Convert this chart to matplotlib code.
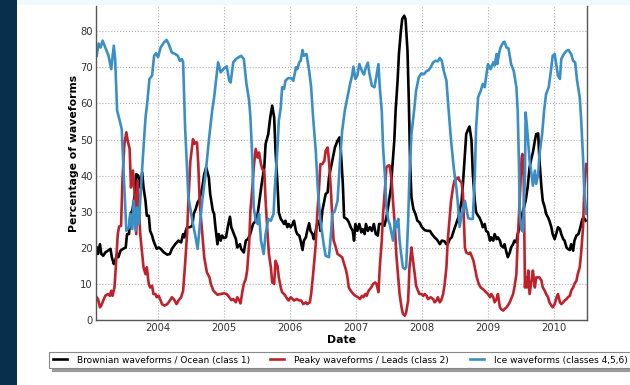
import matplotlib
matplotlib.use('Agg')
import matplotlib.pyplot as plt
from matplotlib.patches import Rectangle

# Brownian waveforms / Ocean (class 1)
ocean_t = [
    2003.07, 2003.09, 2003.12, 2003.14, 2003.17, 2003.20, 2003.24, 2003.28, 2003.30, 2003.33,
    2003.35, 2003.38, 2003.40, 2003.43, 2003.47, 2003.51, 2003.53, 2003.56, 2003.58, 2003.61,
    2003.63, 2003.66, 2003.67, 2003.70, 2003.72, 2003.73, 2003.76, 2003.78, 2003.81, 2003.83,
    2003.86, 2003.88, 2003.91, 2003.93, 2003.96, 2003.98, 2004.01, 2004.04, 2004.09, 2004.14,
    2004.18, 2004.21, 2004.26, 2004.31, 2004.35, 2004.38, 2004.40, 2004.42, 2004.44, 2004.48,
    2004.52, 2004.54, 2004.57, 2004.60, 2004.63, 2004.67, 2004.70, 2004.73, 2004.77, 2004.79,
    2004.83, 2004.85, 2004.87, 2004.90, 2004.92, 2004.95, 2004.97, 2005.00, 2005.03, 2005.06,
    2005.09, 2005.11, 2005.14, 2005.18, 2005.20, 2005.24, 2005.26, 2005.30, 2005.33, 2005.36,
    2005.39, 2005.41, 2005.44, 2005.48, 2005.51, 2005.53, 2005.57, 2005.61, 2005.63, 2005.67,
    2005.70, 2005.73, 2005.76, 2005.78, 2005.81, 2005.83, 2005.86, 2005.88, 2005.91, 2005.93,
    2005.96, 2005.98, 2006.01, 2006.04, 2006.06, 2006.09, 2006.11, 2006.14, 2006.16, 2006.19,
    2006.21, 2006.24, 2006.26, 2006.29, 2006.31, 2006.34, 2006.36, 2006.39, 2006.41, 2006.44,
    2006.46, 2006.49, 2006.52, 2006.54, 2006.57, 2006.59, 2006.63, 2006.68, 2006.72, 2006.75,
    2006.77, 2006.80, 2006.82, 2006.86, 2006.89, 2006.92, 2006.95, 2006.97, 2006.99, 2007.02,
    2007.05, 2007.08, 2007.10, 2007.13, 2007.15, 2007.18, 2007.21, 2007.24, 2007.27, 2007.30,
    2007.33, 2007.35, 2007.39, 2007.43, 2007.46, 2007.50, 2007.53, 2007.55, 2007.58, 2007.60,
    2007.63, 2007.65, 2007.68, 2007.70, 2007.73, 2007.75, 2007.78, 2007.80, 2007.82, 2007.84,
    2007.87, 2007.90, 2007.93, 2007.96, 2008.00, 2008.04, 2008.08, 2008.12, 2008.15, 2008.19,
    2008.23, 2008.27, 2008.30, 2008.34, 2008.37, 2008.39, 2008.42, 2008.45, 2008.48, 2008.55,
    2008.60, 2008.62, 2008.65, 2008.67, 2008.70, 2008.72, 2008.75, 2008.77, 2008.80, 2008.82,
    2008.85, 2008.87, 2008.90, 2008.92, 2008.95, 2008.97, 2009.00, 2009.03, 2009.05, 2009.08,
    2009.10, 2009.13, 2009.15, 2009.18, 2009.20, 2009.23, 2009.25, 2009.28, 2009.30, 2009.33,
    2009.35, 2009.38, 2009.40, 2009.43, 2009.45, 2009.48, 2009.51, 2009.53, 2009.57, 2009.60,
    2009.63, 2009.66, 2009.68, 2009.71, 2009.73, 2009.76, 2009.78, 2009.81, 2009.83, 2009.86,
    2009.88, 2009.91, 2009.93, 2009.96, 2009.98, 2010.01, 2010.04, 2010.06, 2010.09, 2010.11,
    2010.14, 2010.16, 2010.19, 2010.21, 2010.24, 2010.26, 2010.29, 2010.31, 2010.34, 2010.37,
    2010.40, 2010.43, 2010.45, 2010.48,
]
ocean_v = [
    20.1, 18.3, 21.0, 18.3, 17.8, 18.7, 19.2, 19.7, 17.4, 15.5,
    16.4, 18.3, 17.4, 19.2, 19.7, 20.1, 23.8, 23.8, 29.4, 30.3,
    32.6, 36.3, 40.4, 40.0, 38.6, 36.7, 40.9, 36.7, 33.0, 28.9,
    28.9, 24.7, 23.4, 22.0, 20.6, 19.7, 20.1, 19.7, 18.7, 18.1,
    18.3, 19.7, 21.0, 22.0, 21.5, 23.8, 22.9, 24.7, 25.7, 25.7,
    26.1, 29.4, 30.7, 32.6, 33.5, 36.7, 40.4, 42.3, 39.5, 34.9,
    30.3, 29.4, 25.7, 21.0, 23.8, 22.0, 23.4, 22.7, 22.9, 26.1,
    28.6, 25.7, 24.3, 22.4, 20.1, 21.0, 19.7, 18.7, 22.0, 22.4,
    23.4, 24.7, 26.6, 27.5, 29.4, 32.1, 37.7, 42.3, 48.8, 51.5,
    56.1, 59.4, 56.1, 46.9, 37.7, 29.8, 28.0, 27.5, 26.6, 27.5,
    25.7, 26.6, 25.7, 26.6, 27.5, 24.7, 23.8, 23.4, 22.0, 19.4,
    22.0, 22.9, 24.7, 26.8, 24.7, 23.8, 22.4, 24.7, 26.6, 27.5,
    24.7, 30.3, 33.0, 34.9, 35.4, 39.5, 43.2, 47.8, 49.7, 50.6,
    46.9, 37.7, 28.4, 28.0, 27.1, 25.7, 24.7, 22.0, 26.6, 24.7,
    26.6, 24.3, 25.2, 23.8, 26.6, 24.7, 25.7, 24.7, 26.6, 23.8,
    23.4, 26.6, 26.6, 26.1, 28.4, 33.0, 36.7, 42.3, 49.7, 58.0,
    66.3, 73.7, 80.1, 83.4, 84.3, 83.4, 74.6, 60.8, 43.2, 34.0,
    30.7, 29.4, 27.5, 27.1, 25.7, 24.9, 24.7, 24.7, 23.8, 22.9,
    22.2, 21.0, 22.0, 21.8, 21.0, 21.0, 22.4, 22.9, 24.7, 28.4,
    33.0, 37.7, 46.0, 51.5, 52.9, 53.6, 49.7, 40.4, 33.0, 29.8,
    28.9, 28.4, 27.1, 25.7, 26.6, 24.7, 24.3, 22.0, 22.9, 22.0,
    23.8, 22.4, 22.9, 22.0, 20.6, 20.1, 21.0, 18.7, 17.4, 18.7,
    20.1, 21.0, 22.0, 21.5, 23.8, 25.7, 28.4, 30.3, 33.0, 36.7,
    42.3, 45.0, 46.4, 49.7, 51.5, 51.7, 44.1, 36.7, 33.0, 31.2,
    29.4, 28.4, 27.5, 25.7, 23.8, 22.4, 24.3, 25.7, 25.2, 23.8,
    22.4, 22.0, 20.1, 19.7, 19.4, 21.0, 19.2, 22.0, 23.4, 23.8,
    25.7, 28.0, 28.4, 27.5,
]

# Peaky waveforms / Leads (class 2)
leads_t = [
    2003.07, 2003.09, 2003.12, 2003.14, 2003.17, 2003.20, 2003.24, 2003.27, 2003.29, 2003.31,
    2003.34, 2003.36, 2003.39, 2003.41, 2003.44, 2003.46, 2003.49, 2003.52, 2003.54, 2003.57,
    2003.59, 2003.62, 2003.64, 2003.67, 2003.69, 2003.71, 2003.73, 2003.76, 2003.78, 2003.81,
    2003.83, 2003.86, 2003.88, 2003.91, 2003.93, 2003.96, 2003.98, 2004.01, 2004.04, 2004.06,
    2004.10, 2004.14, 2004.18, 2004.21, 2004.24, 2004.28, 2004.31, 2004.35, 2004.38, 2004.41,
    2004.44, 2004.46, 2004.49, 2004.53, 2004.55, 2004.57, 2004.59, 2004.61, 2004.63, 2004.65,
    2004.68, 2004.70, 2004.74, 2004.78, 2004.80, 2004.84, 2004.90, 2004.95, 2005.00, 2005.04,
    2005.08, 2005.11, 2005.14, 2005.18, 2005.20, 2005.23, 2005.25, 2005.28, 2005.30, 2005.33,
    2005.35, 2005.38, 2005.40, 2005.43, 2005.45, 2005.48, 2005.51, 2005.53, 2005.56, 2005.58,
    2005.61, 2005.63, 2005.66, 2005.68, 2005.71, 2005.73, 2005.76, 2005.78, 2005.81, 2005.83,
    2005.86, 2005.88, 2005.91, 2005.93, 2005.96, 2005.98, 2006.01, 2006.04, 2006.06, 2006.10,
    2006.14, 2006.17, 2006.20, 2006.24, 2006.26, 2006.30, 2006.32, 2006.35, 2006.39, 2006.41,
    2006.44, 2006.46, 2006.49, 2006.52, 2006.54, 2006.57, 2006.59, 2006.62, 2006.64, 2006.66,
    2006.68, 2006.72, 2006.76, 2006.79, 2006.82, 2006.85, 2006.87, 2006.89, 2006.92, 2006.96,
    2006.99, 2007.03, 2007.06, 2007.09, 2007.11, 2007.14, 2007.16, 2007.19, 2007.23, 2007.26,
    2007.29, 2007.31, 2007.34, 2007.36, 2007.39, 2007.41, 2007.44, 2007.46, 2007.49, 2007.51,
    2007.54, 2007.56, 2007.59, 2007.61, 2007.64, 2007.66, 2007.69, 2007.71, 2007.74, 2007.76,
    2007.79, 2007.81, 2007.84, 2007.86, 2007.89, 2007.91, 2007.94, 2007.96, 2007.99, 2008.02,
    2008.04, 2008.07, 2008.09, 2008.13, 2008.17, 2008.19, 2008.22, 2008.24, 2008.27, 2008.29,
    2008.32, 2008.34, 2008.37, 2008.39, 2008.42, 2008.44, 2008.47, 2008.49, 2008.55, 2008.57,
    2008.60, 2008.62, 2008.65, 2008.67, 2008.71, 2008.73, 2008.76, 2008.78, 2008.81, 2008.83,
    2008.86, 2008.89, 2008.92, 2008.95, 2008.97, 2009.00, 2009.03, 2009.05, 2009.08, 2009.10,
    2009.13, 2009.15, 2009.18, 2009.20, 2009.23, 2009.25, 2009.28, 2009.30, 2009.33, 2009.35,
    2009.38, 2009.40, 2009.43, 2009.45, 2009.48, 2009.51, 2009.52, 2009.54, 2009.56, 2009.57,
    2009.59, 2009.61, 2009.63, 2009.66, 2009.68, 2009.71, 2009.73, 2009.76, 2009.78, 2009.81,
    2009.83, 2009.86, 2009.88, 2009.91, 2009.93, 2009.96, 2009.98, 2010.01, 2010.04, 2010.06,
    2010.09, 2010.11, 2010.14, 2010.16, 2010.19, 2010.21, 2010.24, 2010.26, 2010.29, 2010.31,
    2010.34, 2010.36, 2010.39, 2010.41, 2010.44, 2010.46, 2010.49,
]
leads_v = [
    6.3, 5.8, 3.5, 4.0, 5.4, 6.7, 7.2, 6.7, 8.1, 6.7,
    9.0, 14.6, 23.8, 25.9, 26.1, 38.6, 48.8, 52.0, 49.7, 47.4,
    36.7, 41.4, 36.7, 23.8, 38.6, 31.2, 23.8, 18.3, 14.6, 12.7,
    14.6, 10.0, 9.0, 9.5, 7.2, 7.2, 6.3, 6.7, 5.4, 4.4,
    4.0, 4.4, 5.4, 6.3, 5.8, 4.4, 5.4, 6.3, 8.1, 15.5,
    23.8, 33.0, 44.1, 50.1, 48.8, 49.2, 49.2, 43.2, 33.0, 28.4,
    22.0, 17.4, 13.2, 11.8, 10.0, 8.1, 7.0, 7.2, 7.4, 7.2,
    6.3, 5.5, 5.8, 4.9, 6.3, 5.4, 4.6, 8.1, 10.0, 11.4,
    13.7, 21.0, 30.3, 36.7, 42.3, 47.4, 45.0, 46.4, 43.2, 41.8,
    41.4, 33.0, 23.8, 18.3, 14.6, 10.4, 10.0, 16.4, 15.0, 11.8,
    9.0, 7.7, 7.2, 6.7, 5.8, 5.4, 6.3, 5.8, 5.4, 5.8,
    5.4, 5.4, 4.4, 4.9, 4.4, 4.9, 7.2, 12.7, 21.0, 28.4,
    36.7, 43.2, 43.2, 44.1, 46.9, 47.8, 44.1, 35.8, 28.4, 22.0,
    21.0, 18.3, 17.8, 17.4, 15.5, 13.7, 11.8, 9.0, 8.1, 7.2,
    6.7, 6.3, 5.8, 6.7, 6.3, 7.2, 6.7, 8.1, 9.0, 10.0,
    10.4, 10.0, 7.7, 14.6, 22.0, 29.4, 36.7, 42.3, 42.8, 42.8,
    38.6, 33.0, 25.7, 18.3, 11.8, 7.2, 3.5, 1.7, 1.2, 2.1,
    5.4, 14.6, 20.1, 16.9, 12.7, 9.5, 8.1, 7.2, 7.2, 6.7,
    7.2, 6.7, 5.8, 6.3, 5.8, 4.9, 5.4, 6.3, 4.9, 5.4,
    7.2, 9.5, 14.6, 22.0, 28.4, 33.0, 36.7, 38.6, 39.5, 38.6,
    38.1, 34.9, 20.1, 18.7, 18.3, 18.7, 17.4, 16.4, 13.7, 11.8,
    10.0, 9.0, 8.6, 8.1, 7.7, 7.2, 6.3, 7.2, 6.3, 4.9,
    5.8, 7.2, 3.5, 3.0, 2.6, 3.0, 3.5, 4.0, 4.9, 5.8,
    7.2, 9.0, 12.7, 22.0, 33.0, 45.0, 46.0, 40.4, 9.0, 11.8,
    9.0, 13.7, 7.2, 10.9, 13.7, 9.0, 11.8, 11.8, 11.8, 10.9,
    9.0, 8.1, 7.2, 6.3, 4.9, 4.0, 3.5, 4.4, 6.3, 7.2,
    4.9, 4.4, 4.9, 5.4, 5.8, 6.3, 6.7, 8.1, 9.0, 10.0,
    10.9, 12.7, 14.6, 18.3, 25.7, 36.7, 43.2,
]

# Ice waveforms (classes 4,5,6)
ice_t = [
    2003.07, 2003.10, 2003.13, 2003.16, 2003.20, 2003.25, 2003.29, 2003.33, 2003.35, 2003.38,
    2003.42, 2003.45, 2003.48, 2003.52, 2003.56, 2003.58, 2003.61, 2003.63, 2003.66, 2003.68,
    2003.71, 2003.73, 2003.77, 2003.81, 2003.84, 2003.87, 2003.91, 2003.94, 2003.97, 2004.00,
    2004.04, 2004.09, 2004.13, 2004.16, 2004.21, 2004.26, 2004.30, 2004.33, 2004.36, 2004.38,
    2004.41, 2004.46, 2004.52, 2004.57, 2004.60, 2004.63, 2004.67, 2004.72, 2004.77, 2004.82,
    2004.85, 2004.91, 2004.95, 2004.99, 2005.04, 2005.08, 2005.10, 2005.14, 2005.18, 2005.23,
    2005.26, 2005.30, 2005.34, 2005.38, 2005.40, 2005.43, 2005.45, 2005.48, 2005.51, 2005.53,
    2005.56, 2005.60, 2005.63, 2005.67, 2005.71, 2005.75, 2005.77, 2005.81, 2005.83, 2005.86,
    2005.88, 2005.91, 2005.93, 2005.97, 2006.02, 2006.05, 2006.09, 2006.11, 2006.14, 2006.16,
    2006.19, 2006.21, 2006.25, 2006.29, 2006.32, 2006.35, 2006.39, 2006.42, 2006.46, 2006.51,
    2006.54, 2006.59, 2006.62, 2006.64, 2006.68, 2006.72, 2006.76, 2006.79, 2006.83, 2006.87,
    2006.91, 2006.94, 2006.96, 2006.99, 2007.02, 2007.05, 2007.09, 2007.12, 2007.15, 2007.18,
    2007.20, 2007.24, 2007.28, 2007.31, 2007.34, 2007.36, 2007.39, 2007.41, 2007.44, 2007.46,
    2007.49, 2007.51, 2007.54, 2007.56, 2007.59, 2007.61, 2007.64, 2007.66, 2007.69, 2007.71,
    2007.74, 2007.76, 2007.79, 2007.81, 2007.84, 2007.88, 2007.91, 2007.95, 2007.99, 2008.03,
    2008.07, 2008.10, 2008.13, 2008.17, 2008.20, 2008.24, 2008.27, 2008.30, 2008.33, 2008.37,
    2008.40, 2008.44, 2008.48, 2008.52, 2008.54, 2008.57, 2008.60, 2008.65, 2008.70, 2008.74,
    2008.77, 2008.80, 2008.82, 2008.85, 2008.89, 2008.92, 2008.95, 2008.97, 2009.00, 2009.04,
    2009.08, 2009.10, 2009.13, 2009.14, 2009.17, 2009.19, 2009.23, 2009.25, 2009.28, 2009.31,
    2009.35, 2009.39, 2009.43, 2009.45, 2009.47, 2009.48, 2009.51, 2009.53, 2009.56, 2009.57,
    2009.60, 2009.63, 2009.66, 2009.68, 2009.71, 2009.73, 2009.76, 2009.78, 2009.82, 2009.85,
    2009.88, 2009.92, 2009.96, 2009.98, 2010.01, 2010.04, 2010.06, 2010.09, 2010.11, 2010.15,
    2010.19, 2010.22, 2010.26, 2010.29, 2010.32, 2010.35, 2010.39, 2010.41, 2010.44, 2010.46,
    2010.49,
]
ice_v = [
    73.2, 76.6, 75.5, 77.4, 75.5, 73.2, 69.5, 76.0, 72.3, 58.0,
    55.2, 52.9, 40.4, 24.7, 25.7, 29.4, 25.2, 33.0, 24.7, 31.2,
    26.6, 33.0, 45.0, 56.0, 60.8, 66.8, 67.7, 73.2, 73.9, 72.8,
    75.5, 76.9, 77.6, 76.5, 74.1, 73.7, 73.2, 71.8, 72.3, 71.4,
    53.4, 34.0, 27.5, 22.9, 19.7, 25.7, 33.0, 40.4, 49.7, 58.0,
    61.7, 71.4, 68.6, 69.5, 70.3, 66.3, 65.8, 71.4, 72.3, 72.9,
    73.2, 72.3, 65.4, 60.8, 56.1, 44.1, 31.2, 27.5, 26.6, 29.4,
    22.0, 18.3, 23.8, 28.0, 27.5, 29.4, 36.7, 47.8, 55.2, 58.9,
    64.5, 64.0, 66.3, 67.0, 67.0, 66.3, 70.0, 69.5, 71.4, 71.8,
    74.8, 73.2, 73.7, 69.0, 64.5, 56.1, 46.9, 36.7, 27.5, 21.0,
    17.8, 17.4, 23.8, 29.4, 30.3, 33.0, 45.0, 52.4, 58.0, 61.7,
    65.4, 67.7, 70.2, 66.8, 67.7, 70.9, 69.0, 68.0, 70.0, 71.3,
    68.6, 64.9, 64.5, 67.7, 70.9, 64.5, 58.0, 47.8, 39.5, 31.2,
    27.5, 26.6, 23.8, 22.0, 27.5, 25.7, 28.0, 22.0, 17.4, 14.6,
    14.1, 14.6, 27.5, 40.4, 51.5, 58.0, 63.5, 67.2, 68.3, 68.1,
    69.0, 69.2, 70.0, 71.4, 71.8, 71.7, 72.6, 71.8, 69.0, 66.3,
    58.9, 49.7, 42.3, 36.7, 33.0, 25.8, 29.0, 33.0, 28.2, 28.0,
    28.0, 40.0, 53.4, 61.7, 63.5, 65.4, 64.5, 67.2, 70.9, 69.5,
    71.4, 70.5, 73.7, 70.9, 74.1, 75.5, 76.9, 77.1, 75.5, 75.3,
    70.9, 69.0, 64.5, 58.0, 42.3, 29.4, 24.9, 24.5, 40.4, 57.5,
    51.5, 44.1, 40.4, 37.2, 41.4, 37.7, 40.4, 46.0, 51.5, 58.0,
    62.6, 64.5, 70.0, 73.2, 73.7, 70.0, 67.7, 66.8, 72.3, 73.7,
    74.6, 74.8, 73.7, 71.8, 71.4, 66.3, 61.7, 56.1, 45.0, 34.9,
    29.4,
]

years = [2004, 2005, 2006, 2007, 2008, 2009, 2010]
yticks = [0, 10, 20, 30, 40, 50, 60, 70, 80]

labels = ['Brownian waveforms / Ocean (class 1)',
          'Peaky waveforms / Leads (class 2)',
          'Ice waveforms (classes 4,5,6)']
colors = ['#000000', '#c0222b', '#3a8fc6']

fig = plt.figure(figsize=(6.3, 3.85), dpi=100)
fig.patches.append(Rectangle((0, 0), 17 / 630, 1, transform=fig.transFigure,
                             facecolor='#06304c', edgecolor='none', zorder=-1))
fig.patches.append(Rectangle((17 / 630, 1 - 5 / 385), 1, 5 / 385, transform=fig.transFigure,
                             facecolor='#eefafb', edgecolor='none', zorder=-1))

ax = fig.add_axes([96 / 630, 1 - 320 / 385, 491 / 630, 314 / 385])
for t, v, c, lab in zip([ocean_t, leads_t, ice_t], [ocean_v, leads_v, ice_v], colors, labels):
    ax.plot(t, v, color=c, lw=1.9, label=lab)

ax.set_xlim(2003.06, 2010.5)
ax.set_ylim(0, 87)
ax.set_xticks(years)
ax.set_xticklabels([str(y) for y in years])
ax.set_yticks(yticks)
ax.grid(True, color='#b0b0b0', ls=':', lw=0.8)
ax.set_axisbelow(True)
ax.tick_params(labelsize=7.2, length=0, pad=2.4, colors='#333333')
for side in ['left', 'bottom', 'right']:
    ax.spines[side].set_color('#555555')
    ax.spines[side].set_linewidth(1.0)
ax.spines['top'].set_visible(False)

ax.set_xlabel('Date', fontsize=7.8, fontweight='bold', labelpad=1)
ax.set_ylabel('Percentage of waveforms', fontsize=7.8, fontweight='bold')
# the original axes were cropped at the top, so the label sits above centre
ax.yaxis.set_label_coords(-0.035, 0.532)

leg = fig.legend(loc='upper left', bbox_to_anchor=(49 / 630, 1 - 352 / 385), ncol=3,
                 fontsize=6.5, frameon=True, fancybox=False, handlelength=1.55,
                 handletextpad=1.1, columnspacing=2.3, borderpad=0.4, borderaxespad=0,
                 shadow={'color': '#999999', 'alpha': 1.0})
leg.get_frame().set_edgecolor('#888888')
leg.get_frame().set_linewidth(0.8)

fig.savefig('out.png', dpi=100)
